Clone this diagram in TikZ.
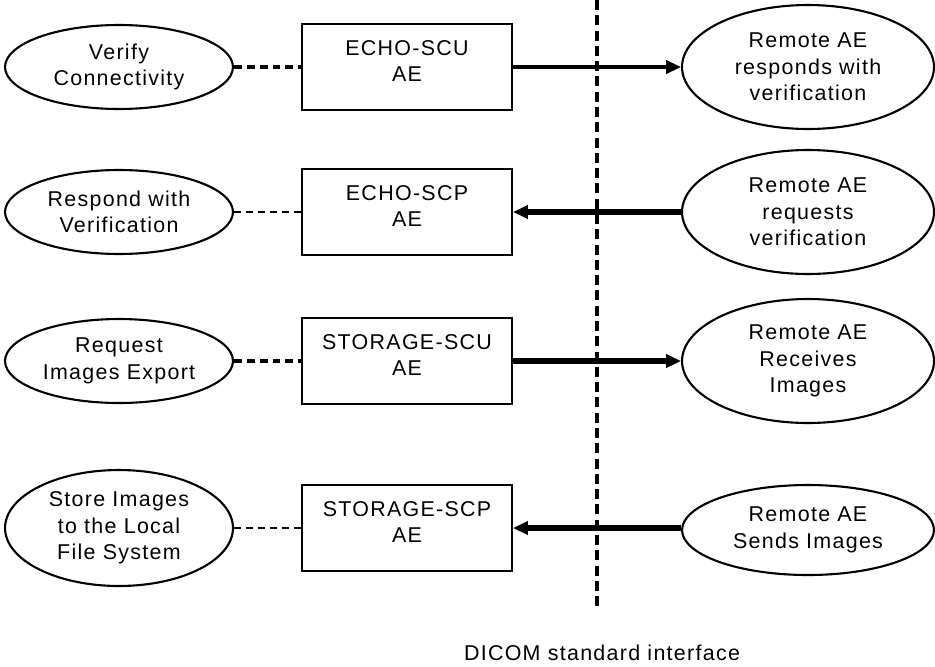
\documentclass[tikz,border=0pt]{standalone}
\usepackage{fontspec}
\setmainfont{Liberation Sans}[LetterSpace=6]
\usetikzlibrary{arrows.meta,shapes.geometric,positioning}
\newcommand{\aepad}{\rule[-7pt]{0pt}{7pt}}

\begin{document}
\begin{tikzpicture}[x=0.02cm, y=-0.02cm]
	\tikzstyle{every node}=[font=\fontsize{12.2}{15}\selectfont, align=center]
	\tikzstyle{task}=[draw, ellipse, line width=1.2pt, inner sep=0pt, minimum width=4.56cm, minimum height=1.68cm]
	\tikzstyle{remote}=[task, minimum width=5.04cm, minimum height=2.48cm]
	\tikzstyle{aebox}=[draw, rectangle, line width=1.2pt, minimum width=4.2cm, minimum height=1.72cm]
	\tikzstyle{local}=[line width=1.8pt, dash pattern=on 4.5pt off 2.8pt]
	\tikzstyle{localthin}=[line width=0.7pt, dash pattern=on 4pt off 2.8pt]
	\tikzstyle{assoc}=[line width=3pt, -{Triangle[length=8.5pt,width=7.5pt]}]
	\useasboundingbox (0,0) rectangle (935,666);
	% application entities
	\node[aebox] (echoscu) at (407,67) {ECHO-SCU\\AE\aepad};
	\node[aebox] (echoscp) at (407,212) {ECHO-SCP\\AE\aepad};
	\node[aebox] (storescu) at (407,361) {STORAGE-SCU\\AE\aepad};
	\node[aebox] (storescp) at (407,528) {STORAGE-SCP\\AE\aepad};
	% local real-world activities
	\node[task] (verify) at (119,67) {Verify\\Connectivity};
	\node[task] (respond) at (119,212) {Respond with\\Verification};
	\node[task] (export) at (119,361) {Request\\Images Export};
	\node[task, minimum height=2.32cm] (store) at (119,528) {Store Images\\to the Local\\File System};
	% remote real-world activities
	\node[remote] (rverify) at (808,67) {Remote AE\\responds with\\verification};
	\node[remote] (rrequest) at (808,212) {Remote AE\\requests\\verification};
	\node[remote] (rreceive) at (808,361) {Remote AE\\Receives\\Images};
	\node[remote, minimum height=1.8cm] (rsend) at (808,530) {Remote AE\\Sends Images};
	% interface
	\coordinate (ifacetop) at (597,0);
	\coordinate (ifacebot) at (597,610);
	\node (iface) at (602,653) {DICOM standard interface};
	\draw[line width=2.2pt, dash pattern=on 5.7pt off 3pt] (ifacetop) -- (ifacebot);
	% connectors
	\draw[local] (verify) -- (echoscu);
	\draw[localthin] (respond) -- (echoscp);
	\draw[local] (export) -- (storescu);
	\draw[localthin] (store) -- (storescp);
	\draw[assoc, line width=2.2pt] (echoscu) -- (rverify);
	\draw[assoc] (rrequest) -- (echoscp);
	\draw[assoc] (storescu) -- (rreceive);
	\draw[assoc] (rsend.west |- storescp) -- (storescp);
\end{tikzpicture}
\end{document}
